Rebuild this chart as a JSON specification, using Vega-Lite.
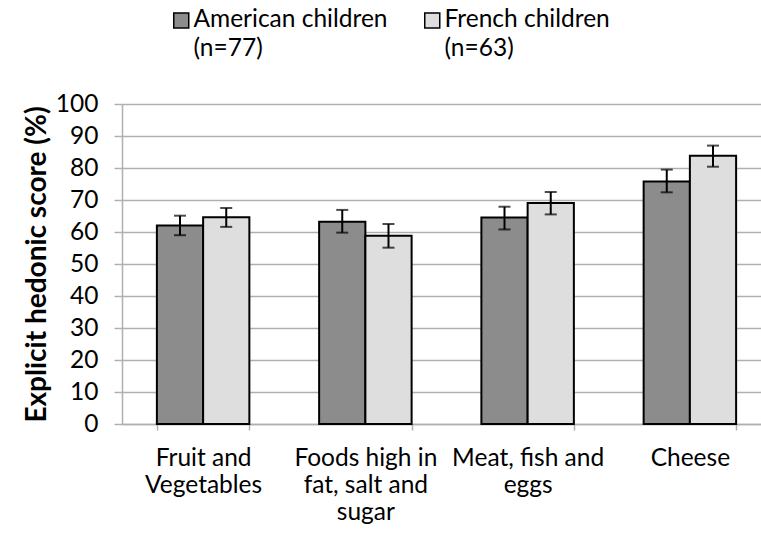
{
  "$schema": "https://vega.github.io/schema/vega-lite/v6.json",
  "width": 639,
  "height": 320,
  "autosize": {"type": "none"},
  "padding": {"left": 122, "top": 104, "right": 0, "bottom": 111},
  "background": "white",
  "config": {
    "view": {"stroke": null},
    "font": "Lato",
    "axisY": {
      "grid": true,
      "gridColor": "#b0b0b0",
      "gridWidth": 1.5,
      "domainColor": "#b0b0b0",
      "domainWidth": 1.5,
      "tickColor": "#b0b0b0",
      "tickWidth": 1.5,
      "tickSize": 8,
      "labelFont": "Lato",
      "labelFontSize": 24.5,
      "labelColor": "black",
      "labelPadding": 16,
      "labelOverlap": false,
      "titleFont": "Lato",
      "titleFontSize": 28,
      "titleFontWeight": "bold",
      "titleColor": "black",
      "titlePadding": 4
    }
  },
  "data": {
    "values": [
      {"category": "Fruit and Vegetables", "group": "American children", "value": 62.0, "lo": 59.0, "hi": 65.1},
      {"category": "Fruit and Vegetables", "group": "French children", "value": 64.6, "lo": 61.6, "hi": 67.5},
      {"category": "Foods high in fat, salt and sugar", "group": "American children", "value": 63.2, "lo": 59.8, "hi": 66.9},
      {"category": "Foods high in fat, salt and sugar", "group": "French children", "value": 58.8, "lo": 55.1, "hi": 62.5},
      {"category": "Meat, fish and eggs", "group": "American children", "value": 64.5, "lo": 60.8, "hi": 67.9},
      {"category": "Meat, fish and eggs", "group": "French children", "value": 69.1, "lo": 65.5, "hi": 72.5},
      {"category": "Cheese", "group": "American children", "value": 75.8, "lo": 72.4, "hi": 79.5},
      {"category": "Cheese", "group": "French children", "value": 83.8, "lo": 80.4, "hi": 87.0}
    ]
  },
  "encoding": {
    "x": {
      "field": "category",
      "type": "nominal",
      "sort": ["Fruit and Vegetables", "Foods high in fat, salt and sugar", "Meat, fish and eggs", "Cheese"],
      "scale": {"range": [0, 649], "paddingInner": 0.43, "paddingOuter": 0.215},
      "axis": {
        "title": null,
        "labelAngle": 0,
        "tickBand": "extent",
        "tickSize": 6,
        "tickColor": "#b0b0b0",
        "tickWidth": 1.5,
        "domainColor": "#b0b0b0",
        "domainWidth": 1.5,
        "grid": false,
        "labelFont": "Lato",
        "labelFontSize": 24.5,
        "labelColor": "black",
        "labelPadding": 16,
        "labelBaseline": "top",
        "labelLineHeight": 27,
        "labelOverlap": false,
        "labelBound": false,
        "labelLimit": 0,
        "labelExpr": "datum.value == 'Fruit and Vegetables' ? ['Fruit and', 'Vegetables'] : datum.value == 'Foods high in fat, salt and sugar' ? ['Foods high in', 'fat, salt and', 'sugar'] : datum.value == 'Meat, fish and eggs' ? ['Meat, fish and', 'eggs'] : datum.value"
      }
    },
    "xOffset": {
      "field": "group",
      "type": "nominal",
      "sort": ["American children", "French children"],
      "scale": {"paddingInner": 0, "paddingOuter": 0}
    }
  },
  "layer": [
    {
      "mark": {"type": "bar", "stroke": "black", "strokeWidth": 2},
      "encoding": {
        "y": {
          "field": "value",
          "type": "quantitative",
          "title": "Explicit hedonic score (%)",
          "scale": {"domain": [0, 100]},
          "axis": {"values": [0, 10, 20, 30, 40, 50, 60, 70, 80, 90, 100]}
        },
        "fill": {
          "field": "group",
          "type": "nominal",
          "scale": {"domain": ["American children", "French children"], "range": ["#8c8c8c", "#dedede"]},
          "legend": {
            "orient": "none",
            "legendX": 47,
            "legendY": -96,
            "direction": "horizontal",
            "title": null,
            "padding": 0,
            "symbolType": "square",
            "symbolSize": 225,
            "symbolStrokeColor": "black",
            "symbolStrokeWidth": 1.5,
            "labelFont": "Lato",
            "labelFontSize": 24.5,
            "labelColor": "black",
            "labelLimit": 400,
            "labelOffset": 0,
            "labelBaseline": "middle",
            "columnPadding": 32,
            "labelExpr": "datum.label == 'American children' ? ['American children', '(n=77)'] : ['French children', '(n=63)']",
            "encode": {"labels": {"update": {"lineHeight": {"value": 29}}}}
          }
        }
      }
    },
    {
      "mark": {"type": "rule", "strokeWidth": 2, "color": "black"},
      "encoding": {
        "y": {"field": "lo", "type": "quantitative", "title": "Explicit hedonic score (%)", "axis": {"values": [0, 10, 20, 30, 40, 50, 60, 70, 80, 90, 100]}},
        "y2": {"field": "hi"}
      }
    },
    {
      "mark": {"type": "tick", "thickness": 2, "size": 12, "color": "black"},
      "encoding": {
        "y": {"field": "lo", "type": "quantitative", "title": "Explicit hedonic score (%)", "axis": {"values": [0, 10, 20, 30, 40, 50, 60, 70, 80, 90, 100]}}
      }
    },
    {
      "mark": {"type": "tick", "thickness": 2, "size": 12, "color": "black"},
      "encoding": {
        "y": {"field": "hi", "type": "quantitative", "title": "Explicit hedonic score (%)", "axis": {"values": [0, 10, 20, 30, 40, 50, 60, 70, 80, 90, 100]}}
      }
    }
  ]
}
